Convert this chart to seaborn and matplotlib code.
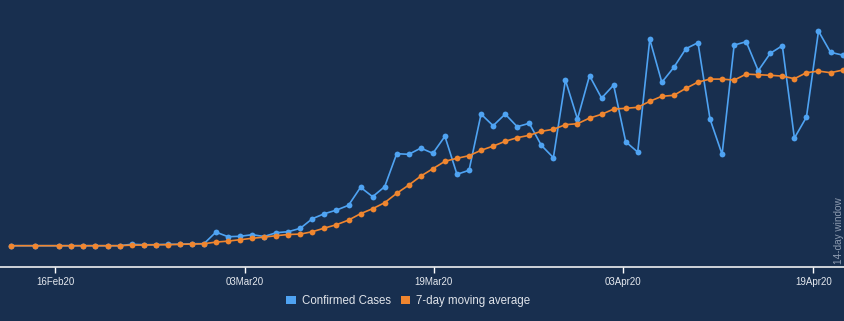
import matplotlib
matplotlib.use("Agg")
import matplotlib.pyplot as plt
from matplotlib.patches import Patch
import pandas as pd
import seaborn as sns

# Day offsets of each report (two early sparse reports, then daily)
days = [-4, -2] + list(range(66))

confirmed = [0, 0, 0, 0, 0, 0, 0, 0, 7, 5, 5, 7, 7, 10, 10, 68, 45, 47, 55, 46,
             65, 70, 87, 135, 160, 178, 202, 292, 245, 295, 460, 457, 488, 462,
             547, 357, 377, 658, 600, 658, 595, 612, 502, 440, 828, 633, 850,
             738, 803, 520, 468, 1032, 817, 892, 985, 1015, 633, 457, 1003,
             1020, 875, 962, 1000, 538, 643, 1073, 967, 953]

moving_avg = [0, 0, 0, 0, 0, 0, 0, 0, 3, 3, 5, 5, 7, 8, 10, 18, 23, 30, 37, 43,
              50, 56, 58, 70, 88, 105, 128, 160, 185, 215, 262, 303, 348, 385,
              422, 437, 450, 477, 498, 522, 540, 552, 572, 582, 605, 610, 638,
              657, 683, 687, 692, 722, 747, 752, 787, 818, 833, 833, 828, 858,
              855, 852, 848, 835, 865, 873, 865, 878]

tick_pos = [-0.36, 15.41, 31.08, 46.8, 62.57]
tick_labels = ["16Feb20", "03Mar20", "19Mar20", "03Apr20", "19Apr20"]

series_names = ["Confirmed Cases", "7-day moving average"]
colors = ["#4fa3f2", "#f0862f"]
bg = "#182f4f"

df = pd.concat([
    pd.DataFrame({"day": days, "value": confirmed, "series": series_names[0]}),
    pd.DataFrame({"day": days, "value": moving_avg, "series": series_names[1]}),
])

sns.set_theme(style="white")
plt.rcParams["font.family"] = ["Liberation Sans", "DejaVu Sans"]

fig = plt.figure(figsize=(8.45, 3.21), dpi=100, facecolor=bg)
ax = fig.add_axes([0.0, 0.16822, 1.0, 0.83178])
ax.set_facecolor(bg)

sns.lineplot(data=df, x="day", y="value", hue="series", hue_order=series_names,
             palette=colors, marker="o", markersize=4.2, markeredgewidth=0,
             linewidth=1.2, legend=False, ax=ax)

ax.set_xlim(-4.921, 65.20)
ax.set_ylim(-106.5, 1228.5)

for side in ["left", "right", "top"]:
    ax.spines[side].set_visible(False)
ax.spines["bottom"].set_color("white")
ax.spines["bottom"].set_linewidth(1.1)

ax.set_yticks([])
ax.set_xticks(tick_pos)
ax.set_xticklabels(tick_labels)
ax.tick_params(axis="x", bottom=True, direction="out", length=4.5, width=1,
               color="white", labelcolor="#e4e8ee", labelsize=7, pad=2.5)
ax.set_xlabel("")
ax.set_ylabel("")

# Right-hand window marker and caption
ax.plot([0.9992, 0.9992], [0.03, 1.0], transform=ax.transAxes,
        color="#8a98ab", linewidth=0.8, alpha=0.6)
ax.text(0.9925, 0.012, "14-day window", transform=ax.transAxes,
        rotation=90, ha="center", va="bottom", fontsize=7.2, color="#8d9bb0")

handles = [Patch(facecolor=c, edgecolor="none") for c in colors]
fig.legend(handles, series_names, loc="center", bbox_to_anchor=(0.4833, 0.0623),
           ncol=2, frameon=False, fontsize=8.3, labelcolor="#e0e4ea",
           handlelength=0.8, handleheight=0.8, handletextpad=0.55,
           columnspacing=0.85)

fig.savefig("out.png", dpi=100, facecolor=bg)
